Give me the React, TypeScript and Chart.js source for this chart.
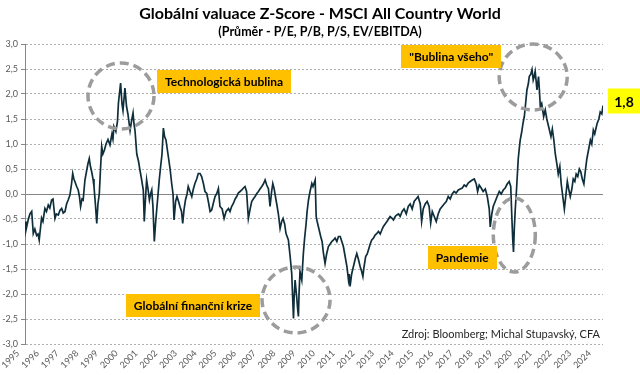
import React, { useEffect, useRef } from 'react';
import { Chart, registerables } from 'chart.js';

Chart.register(...registerables);

const FONT = 'Lato, "Open Sans", "DejaVu Sans", sans-serif';

const chartTitle = 'Globální valuace Z-Score - MSCI All Country World';
const chartSubtitle = '(Průměr - P/E, P/B, P/S, EV/EBITDA)';
const sourceNote = 'Zdroj: Bloomberg; Michal Stupavský, CFA';

const yearLabels = [
  '1995', '1996', '1997', '1998', '1999', '2000', '2001', '2002', '2003', '2004',
  '2005', '2006', '2007', '2008', '2009', '2010', '2011', '2012', '2013', '2014',
  '2015', '2016', '2017', '2018', '2019', '2020', '2021', '2022', '2023', '2024',
];

const dates = [
  1995.36, 1995.41, 1995.52, 1995.61, 1995.70, 1995.78, 1995.86, 1995.95, 1996.02, 1996.08,
  1996.20, 1996.27, 1996.37, 1996.45, 1996.54, 1996.62, 1996.71, 1996.78, 1996.88, 1996.95,
  1997.05, 1997.13, 1997.22, 1997.30, 1997.39, 1997.47, 1997.55, 1997.64, 1997.72, 1997.78,
  1997.84, 1997.89, 1997.98, 1998.06, 1998.12, 1998.18, 1998.25, 1998.31, 1998.40, 1998.48,
  1998.55, 1998.62, 1998.68, 1998.74, 1998.81, 1998.86, 1998.93, 1999.00, 1999.06, 1999.13,
  1999.19, 1999.25, 1999.31, 1999.39, 1999.47, 1999.57, 1999.67, 1999.77, 1999.82, 1999.87,
  1999.97, 2000.05, 2000.10, 2000.21, 2000.28, 2000.33, 2000.43, 2000.51, 2000.58, 2000.69,
  2000.76, 2000.84, 2000.89, 2000.94, 2001.03, 2001.12, 2001.19, 2001.27, 2001.36, 2001.41,
  2001.47, 2001.53, 2001.60, 2001.67, 2001.73, 2001.79, 2001.85, 2001.92, 2001.98, 2002.04,
  2002.11, 2002.17, 2002.24, 2002.31, 2002.38, 2002.44, 2002.51, 2002.63, 2002.72, 2002.80,
  2002.87, 2002.92, 2003.00, 2003.07, 2003.15, 2003.22, 2003.30, 2003.36, 2003.43, 2003.50,
  2003.58, 2003.64, 2003.73, 2003.82, 2003.90, 2003.98, 2004.07, 2004.15, 2004.24, 2004.32,
  2004.41, 2004.49, 2004.58, 2004.66, 2004.75, 2004.83, 2004.91, 2005.00, 2005.09, 2005.17,
  2005.25, 2005.36, 2005.46, 2005.56, 2005.68, 2005.76, 2005.84, 2005.93, 2006.02, 2006.10,
  2006.18, 2006.27, 2006.36, 2006.44, 2006.52, 2006.60, 2006.69, 2006.78, 2006.86, 2006.94,
  2007.03, 2007.12, 2007.20, 2007.28, 2007.37, 2007.45, 2007.54, 2007.62, 2007.71, 2007.79,
  2007.87, 2007.93, 2008.00, 2008.05, 2008.13, 2008.21, 2008.30, 2008.38, 2008.45, 2008.53,
  2008.60, 2008.72, 2008.81, 2008.89, 2008.93, 2008.98, 2009.01, 2009.06, 2009.14, 2009.19,
  2009.23, 2009.26, 2009.31, 2009.40, 2009.48, 2009.54, 2009.62, 2009.67, 2009.74, 2009.82,
  2009.91, 2009.97, 2010.08, 2010.13, 2010.18, 2010.24, 2010.36, 2010.43, 2010.50, 2010.58,
  2010.66, 2010.75, 2010.84, 2010.92, 2011.01, 2011.09, 2011.18, 2011.26, 2011.35, 2011.43,
  2011.51, 2011.60, 2011.69, 2011.77, 2011.81, 2011.85, 2011.93, 2012.02, 2012.11, 2012.19,
  2012.27, 2012.36, 2012.44, 2012.50, 2012.56, 2012.64, 2012.72, 2012.78, 2012.87, 2012.95,
  2013.04, 2013.12, 2013.21, 2013.29, 2013.38, 2013.46, 2013.54, 2013.63, 2013.72, 2013.80,
  2013.88, 2013.97, 2014.05, 2014.14, 2014.22, 2014.31, 2014.39, 2014.49, 2014.59, 2014.70,
  2014.80, 2014.90, 2015.00, 2015.10, 2015.20, 2015.30, 2015.41, 2015.48, 2015.56, 2015.66,
  2015.76, 2015.86, 2015.94, 2016.02, 2016.12, 2016.22, 2016.32, 2016.42, 2016.52, 2016.62,
  2016.73, 2016.83, 2016.93, 2017.03, 2017.13, 2017.23, 2017.34, 2017.44, 2017.54, 2017.64,
  2017.74, 2017.84, 2017.94, 2018.05, 2018.15, 2018.25, 2018.32, 2018.40, 2018.50, 2018.60,
  2018.71, 2018.81, 2018.91, 2018.96, 2019.04, 2019.11, 2019.21, 2019.31, 2019.42, 2019.52,
  2019.62, 2019.72, 2019.82, 2019.92, 2020.00, 2020.05, 2020.10, 2020.14, 2020.18, 2020.23,
  2020.28, 2020.33, 2020.38, 2020.43, 2020.48, 2020.56, 2020.62, 2020.69, 2020.74, 2020.82,
  2020.89, 2020.94, 2021.02, 2021.08, 2021.14, 2021.19, 2021.24, 2021.29, 2021.33, 2021.41,
  2021.45, 2021.50, 2021.57, 2021.67, 2021.75, 2021.83, 2021.92, 2021.98, 2022.04, 2022.11,
  2022.18, 2022.26, 2022.34, 2022.41, 2022.49, 2022.56, 2022.64, 2022.72, 2022.79, 2022.87,
  2022.94, 2023.02, 2023.10, 2023.17, 2023.25, 2023.32, 2023.40, 2023.48, 2023.55, 2023.63,
  2023.71, 2023.78, 2023.86, 2023.93, 2023.98, 2024.04, 2024.11, 2024.19, 2024.26, 2024.38,
  2024.47, 2024.54, 2024.62, 2024.68,
];

const zScore = [
  -0.55, -0.72, -0.52, -0.40, -0.35, -0.79, -0.70, -0.83, -0.80, -0.92,
  -0.48, -0.55, -0.29, -0.35, -0.22, -0.28, -0.12, -0.10, -0.49, -0.40,
  -0.42, -0.33, -0.29, -0.38, -0.35, -0.20, -0.12, -0.02, 0.20, 0.41,
  0.30, 0.25, 0.15, 0.08, -0.05, -0.25, -0.10, -0.12, 0.28, 0.45,
  0.60, 0.71, 0.55, 0.45, 0.30, 0.15, -0.20, -0.59, -0.20, 0.01,
  0.50, 0.95, 0.80, 0.88, 1.00, 1.09, 0.98, 1.20, 1.10, 1.35,
  1.25, 1.45, 1.82, 2.22, 1.80, 1.67, 2.12, 1.75, 1.60, 1.27,
  1.45, 1.62, 1.40, 1.27, 0.80, 0.65, 0.48, 0.30, 0.08, -0.55,
  -0.10, 0.28, 0.10, -0.12, 0.00, 0.08, -0.25, -0.95, -0.60, -0.32,
  0.00, 0.28, 0.55, 0.80, 1.32, 1.15, 1.08, 0.75, 0.50, 0.21,
  0.00, -0.52, -0.15, -0.05, -0.15, -0.25, -0.35, -0.59, -0.30, -0.12,
  0.00, 0.15, 0.05, -0.05, 0.10, 0.21, 0.30, 0.41, 0.41, 0.35,
  0.21, 0.05, 0.01, -0.15, -0.35, -0.32, -0.19, -0.05, 0.01, 0.11,
  -0.25, -0.30, -0.49, -0.35, -0.29, -0.35, -0.25, -0.19, -0.10, -0.05,
  0.02, 0.05, 0.08, 0.12, 0.15, 0.05, -0.49, -0.30, -0.15, -0.10,
  -0.05, 0.01, 0.05, 0.10, 0.15, 0.20, 0.28, 0.18, 0.10, -0.25,
  0.05, 0.21, 0.10, -0.02, -0.20, -0.39, -0.69, -0.55, -0.49, -0.60,
  -0.79, -0.92, -1.25, -1.59, -2.00, -2.49, -2.10, -1.72, -2.05, -2.30,
  -2.45, -2.00, -1.55, -1.72, -1.19, -0.90, -0.59, -0.35, -0.12, 0.05,
  0.21, 0.15, 0.28, -0.45, -0.55, -0.65, -0.85, -0.95, -1.19, -1.39,
  -1.20, -1.05, -1.00, -0.95, -0.92, -0.88, -0.95, -0.85, -0.85, -0.95,
  -1.05, -1.25, -1.45, -1.72, -1.60, -1.85, -1.60, -1.45, -1.30, -1.19,
  -1.30, -1.45, -1.55, -1.65, -1.45, -1.25, -1.20, -1.12, -1.00, -0.92,
  -0.88, -0.82, -0.79, -0.75, -0.80, -0.72, -0.65, -0.60, -0.55, -0.50,
  -0.45, -0.48, -0.52, -0.45, -0.42, -0.40, -0.45, -0.35, -0.30, -0.40,
  -0.25, -0.20, -0.30, -0.15, -0.10, -0.05, -0.20, -0.55, -0.30, -0.20,
  -0.15, -0.25, -0.58, -0.35, -0.45, -0.55, -0.40, -0.30, -0.25, -0.20,
  -0.15, -0.05, -0.10, 0.00, 0.05, 0.02, 0.08, 0.10, 0.12, 0.18,
  0.15, 0.22, 0.25, 0.28, 0.30, 0.20, 0.05, 0.18, 0.12, 0.05,
  0.10, -0.05, -0.30, -0.66, -0.40, -0.25, -0.15, -0.05, 0.05, 0.00,
  0.08, 0.12, 0.20, 0.25, 0.15, -0.40, -0.90, -1.16, -0.70, -0.30,
  0.00, 0.35, 0.70, 0.90, 1.08, 1.25, 1.41, 1.55, 1.75, 2.08,
  2.20, 2.35, 2.40, 2.49, 2.28, 2.35, 2.45, 2.25, 2.08, 2.35,
  2.10, 1.75, 1.81, 1.55, 1.68, 1.50, 1.35, 1.25, 1.15, 1.30,
  1.10, 0.80, 0.60, 0.40, 0.55, 0.20, -0.05, -0.30, -0.05, 0.25,
  0.10, -0.05, 0.10, 0.30, 0.25, 0.40, 0.35, 0.50, 0.45, 0.30,
  0.20, 0.45, 0.70, 0.85, 0.95, 1.08, 1.00, 1.28, 1.20, 1.41,
  1.50, 1.64, 1.60, 1.77,
];

const lastValueLabel = '1,8';

const calloutTexts = ['Technologická bublina', '"Bublina všeho"', 'Globální finanční krize', 'Pandemie'];
const calloutX = [2005.46, 2016.98, 2003.88, 2017.54];
const calloutY = [2.25, 2.76, -2.22, -1.27];

const ringX = [2000.23, 2021.14, 2009.11, 2020.18];
const ringY = [1.96, 2.34, -2.12, -0.82];
const ringRx = [33, 34, 34, 21];
const ringRy = [33, 33, 33, 37];

const decorPlugin = {
  id: 'decor',
  beforeDatasetsDraw(chart: any) {
    const { ctx, chartArea, scales } = chart;
    const y0 = Math.round(scales.y.getPixelForValue(0)) + 0.5;
    ctx.save();
    ctx.strokeStyle = '#868686';
    ctx.lineWidth = 1;
    ctx.beginPath();
    ctx.moveTo(chartArea.left, y0);
    ctx.lineTo(chartArea.right, y0);
    ctx.stroke();
    ctx.restore();
  },
  afterDatasetsDraw(chart: any) {
    const { ctx, scales, chartArea } = chart;
    const xs = scales.x;
    const ys = scales.y;
    ctx.save();
    ctx.strokeStyle = '#9c9c9c';
    ctx.lineWidth = 3.5;
    ctx.setLineDash([9, 5]);
    for (let i = 0; i < ringX.length; i++) {
      ctx.beginPath();
      ctx.ellipse(xs.getPixelForValue(ringX[i]), ys.getPixelForValue(ringY[i]), ringRx[i], ringRy[i], 0, 0, Math.PI * 2);
      ctx.stroke();
    }
    ctx.setLineDash([]);
    ctx.font = `bold 12px ${FONT}`;
    ctx.textAlign = 'center';
    ctx.textBaseline = 'middle';
    for (let i = 0; i < calloutTexts.length; i++) {
      const cx = xs.getPixelForValue(calloutX[i]);
      const cy = ys.getPixelForValue(calloutY[i]);
      const w = ctx.measureText(calloutTexts[i]).width + 16;
      const h = 23;
      ctx.fillStyle = '#FFC000';
      ctx.fillRect(Math.round(cx - w / 2), Math.round(cy - h / 2), Math.round(w), h);
      ctx.fillStyle = '#000000';
      ctx.fillText(calloutTexts[i], cx, cy + 1);
    }
    const lastX = xs.getPixelForValue(dates[dates.length - 1]);
    const lastY = ys.getPixelForValue(zScore[zScore.length - 1]);
    ctx.font = `bold 14px ${FONT}`;
    const bw = 32;
    const bh = 25;
    const bx = lastX + 5;
    const by = lastY - 17;
    ctx.fillStyle = '#FFFF00';
    ctx.fillRect(bx, by, bw, bh);
    ctx.fillStyle = '#000000';
    ctx.fillText(lastValueLabel, bx + bw / 2, by + bh / 2 + 1);
    ctx.font = `11px ${FONT}`;
    ctx.textAlign = 'right';
    ctx.fillStyle = '#262626';
    ctx.fillText(sourceNote, chartArea.right - 3, chartArea.bottom - 10);
    ctx.restore();
  },
  afterDraw(chart: any) {
    const { ctx, width } = chart;
    ctx.save();
    ctx.textAlign = 'center';
    ctx.textBaseline = 'middle';
    ctx.fillStyle = '#000000';
    ctx.font = `bold 16px ${FONT}`;
    ctx.fillText(chartTitle, width / 2, 14);
    ctx.font = `bold 12.5px ${FONT}`;
    ctx.fillText(chartSubtitle, width / 2, 32);
    ctx.restore();
  },
};

export default function App() {
  const canvasRef = useRef<HTMLCanvasElement | null>(null);

  useEffect(() => {
    document.body.style.margin = '0';
    const canvas = canvasRef.current;
    if (!canvas) return;
    const chart = new Chart(canvas, {
      type: 'line',
      data: {
        datasets: [
          {
            data: dates.map((d, i) => ({ x: d, y: zScore[i] })),
            borderColor: '#0f2e3b',
            borderWidth: 1.7,
            pointRadius: 0,
            tension: 0,
            fill: false,
          },
        ],
      },
      options: {
        animation: false,
        responsive: false,
        layout: { padding: { top: 44, right: 37, left: 0, bottom: 0 } },
        plugins: { legend: { display: false }, tooltip: { enabled: false }, title: { display: false } },
        scales: {
          x: {
            type: 'linear',
            min: dates[0],
            max: dates[dates.length - 1],
            bounds: 'data',
            afterBuildTicks: (s: any) => {
              s.ticks = yearLabels.map((l) => ({ value: Number(l) }));
            },
            afterFit: (s: any) => {
              s.height = 31;
              s.paddingLeft = 0;
              s.paddingRight = 0;
            },
            grid: { display: false, drawTicks: false },
            border: { display: false },
            ticks: {
              autoSkip: false,
              minRotation: 45,
              maxRotation: 45,
              padding: 4,
              color: '#595959',
              font: { family: FONT, size: 9 },
              callback: (v: any) => String(v),
            },
          },
          y: {
            min: -3,
            max: 3,
            afterFit: (s: any) => {
              s.width = 25;
            },
            grid: {
              color: (c: any) => (c.tick && c.tick.value === 0 ? 'rgba(0,0,0,0)' : '#b0b0b0'),
              lineWidth: 1,
              drawTicks: true,
              tickLength: 4,
              tickColor: '#868686',
              tickBorderDash: [],
            },
            border: { display: true, color: '#868686', width: 1, dash: [2, 2] },
            ticks: {
              stepSize: 0.5,
              padding: 3,
              color: '#595959',
              font: { family: FONT, size: 9 },
              callback: (v: any) => Number(v).toFixed(1).replace('.', ','),
            },
          },
        },
      },
      plugins: [decorPlugin],
    });
    return () => chart.destroy();
  }, []);

  return <canvas ref={canvasRef} width={640} height={375} style={{ display: 'block' }} />;
}
